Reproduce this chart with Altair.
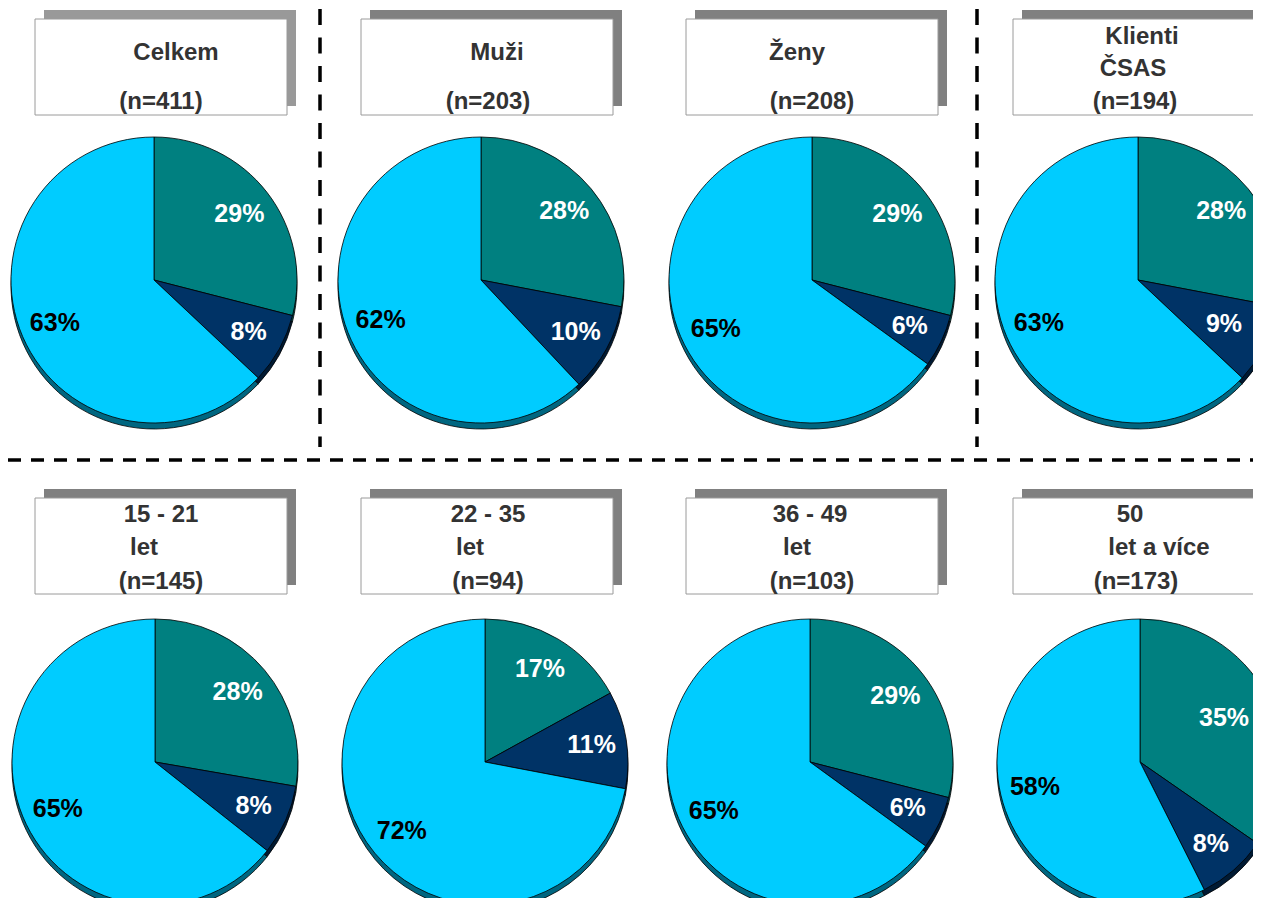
import math
import altair as alt
import pandas as pd

# ---------------- data ----------------
GROUPS = ["Celkem", "Muži", "Ženy", "Klienti ČSAS",
          "15 - 21 let", "22 - 35 let", "36 - 49 let", "50 let a více"]
N_SIZES = [411, 203, 208, 194, 145, 94, 103, 173]
CATS = ["A", "B", "C"]
SHARE_A = [29, 28, 29, 28, 28, 17, 29, 35]   # teal slice
SHARE_B = [8, 10, 6, 9, 8, 11, 6, 8]          # navy slice
SHARE_C = [63, 62, 65, 63, 65, 72, 65, 58]    # light cyan slice

# title lines per panel (PowerPoint-like layout)
TITLE_LINES = [
    ["Celkem", "(n=411)"],
    ["Muži", "(n=203)"],
    ["Ženy", "(n=208)"],
    ["Klienti", "ČSAS", "(n=194)"],
    ["15 - 21", "let", "(n=145)"],
    ["22 - 35", "let", "(n=94)"],
    ["36 - 49", "let", "(n=103)"],
    ["50", "let a více", "(n=173)"],
]

# ---------------- layout (page coords, minus 8px margin later) ----------------
M = 8
PIE_CX = [154, 481, 812, 1138, 155, 485, 810, 1140]
PIE_CY = [280, 280, 280, 280, 762, 762, 762, 762]
PIE_R = 143
LABEL_R = 108
LABEL_HALF_W = 29
SHADOW_DY = 6
BOX_X = [35, 361, 686, 1013]
BOX_Y = [19, 498]
BOX_W, BOX_H = 252, 96
BOX_SHADOW = (9, -9)
TITLE_POS = [
    [(176, 53), (161, 102)],
    [(497, 53), (488, 102)],
    [(797, 53), (812, 102)],
    [(1142, 37), (1133, 69), (1135, 102)],
    [(161, 515), (144, 548), (161, 582)],
    [(488, 515), (470, 548), (488, 582)],
    [(810, 515), (797, 548), (812, 582)],
    [(1130, 515), (1159, 548), (1136, 582)],
]
COLORS = ["#008080", "#003366", "#00CCFF"]
SHADOW_COLORS = ["#004d4d", "#001a33", "#006680"]
LABEL_COLORS = ["#FFFFFF", "#FFFFFF", "#000000"]
FONT = "Liberation Sans"
W, H = 1261 - M, 906 - M
VISIBLE_W = 1261 - 2 * M

# ---------------- tables ----------------
rows = []
for i in range(len(GROUPS)):
    vals = [SHARE_A[i], SHARE_B[i], SHARE_C[i]]
    for k, (c, v) in enumerate(zip(CATS, vals)):
        rows.append(dict(panel=i, cat=c, order=k, value=v,
                         cx=PIE_CX[i] - M, cy=PIE_CY[i] - M))
slices = pd.DataFrame(rows)

boxes = []
for i in range(len(GROUPS)):
    bx = BOX_X[i % 4] - M
    by = BOX_Y[i // 4] - M
    shade = "#999999" if i == 0 else "#808080"
    boxes.append(dict(panel=i, x0=bx, x1=bx + BOX_W, y0=by, y1=by + BOX_H,
                      sx0=bx + BOX_SHADOW[0], sx1=bx + BOX_W + BOX_SHADOW[0],
                      sy0=by + BOX_SHADOW[1], sy1=by + BOX_H + BOX_SHADOW[1],
                      shade=shade))
boxes = pd.DataFrame(boxes)

titles = []
for i, lines in enumerate(TITLE_LINES):
    for t, (tx, ty) in zip(lines, TITLE_POS[i]):
        titles.append(dict(text=t, x=tx - M, y=ty - M))
titles = pd.DataFrame(titles)

vlines = pd.DataFrame(dict(x=[320 - M, 977 - M], y0=[9 - M, 9 - M], y1=[447 - M, 447 - M]))
hline = pd.DataFrame(dict(y=[460 - M], x0=[0], x1=[W]))

# ---------------- charts ----------------
theta_scale = alt.Scale(domain=[0, 1], range=[0, 2 * math.pi])

base = (
    alt.Chart(slices)
    .transform_joinaggregate(total="sum(value)", groupby=["panel"])
    .transform_window(cum="sum(value)", groupby=["panel"],
                      sort=[alt.SortField("order")], frame=[None, 0])
    .transform_calculate(
        t0="(datum.cum - datum.value) / datum.total",
        t1="datum.cum / datum.total",
        tm="(datum.cum - datum.value / 2) / datum.total",
        cys="datum.cy + %d" % SHADOW_DY,
        label="datum.value + '%'",
    )
    .transform_calculate(
        lr="sin(2*PI*datum.tm) > 0 ? min(%d, (%d - %d - datum.cx) / sin(2*PI*datum.tm)) : %d"
           % (LABEL_R, VISIBLE_W, LABEL_HALF_W, LABEL_R)
    )
)

pie_shadow = base.mark_arc(radius=PIE_R, stroke="black", strokeWidth=0.8, clip=True).encode(
    x=alt.X("cx:Q", scale=None, axis=None),
    y=alt.Y("cys:Q", scale=None, axis=None),
    theta=alt.Theta("t0:Q", scale=theta_scale, stack=None),
    theta2="t1:Q",
    color=alt.Color("cat:N", scale=alt.Scale(domain=CATS, range=SHADOW_COLORS), legend=None),
)

pie = base.mark_arc(radius=PIE_R, stroke="black", strokeWidth=0.8, clip=True).encode(
    x=alt.X("cx:Q", scale=None, axis=None),
    y=alt.Y("cy:Q", scale=None, axis=None),
    theta=alt.Theta("t0:Q", scale=theta_scale, stack=None),
    theta2="t1:Q",
    fill=alt.Fill("cat:N", scale=alt.Scale(domain=CATS, range=COLORS), legend=None),
)

labels = base.mark_text(font=FONT, fontWeight="bold", fontSize=25,
                        align="center", baseline="middle", clip=True).encode(
    x=alt.X("cx:Q", scale=None, axis=None),
    y=alt.Y("cy:Q", scale=None, axis=None),
    theta=alt.Theta("tm:Q", scale=theta_scale, stack=None),
    radius=alt.Radius("lr:Q", scale=None),
    text="label:N",
    color=alt.Color("cat:N", scale=alt.Scale(domain=CATS, range=LABEL_COLORS), legend=None),
)

box_shadow = alt.Chart(boxes).mark_rect(clip=True).encode(
    x=alt.X("sx0:Q", scale=None, axis=None), x2="sx1:Q",
    y=alt.Y("sy0:Q", scale=None, axis=None), y2="sy1:Q",
    color=alt.Color("shade:N", scale=None, legend=None),
)
box = alt.Chart(boxes).mark_rect(fill="white", stroke="#9a9a9a", strokeWidth=1, clip=True).encode(
    x=alt.X("x0:Q", scale=None, axis=None), x2="x1:Q",
    y=alt.Y("y0:Q", scale=None, axis=None), y2="y1:Q",
)
title_text = alt.Chart(titles).mark_text(font=FONT, fontWeight="bold", fontSize=24,
                                         color="#333333", align="center",
                                         baseline="middle", clip=True).encode(
    x=alt.X("x:Q", scale=None, axis=None),
    y=alt.Y("y:Q", scale=None, axis=None),
    text="text:N",
)

vrule = alt.Chart(vlines).mark_rule(color="black", strokeWidth=3.5,
                                     strokeDash=[16, 12.5]).encode(
    x=alt.X("x:Q", scale=None, axis=None),
    y=alt.Y("y0:Q", scale=None, axis=None), y2="y1:Q",
)
hrule = alt.Chart(hline).mark_rule(color="black", strokeWidth=3.5,
                                    strokeDash=[13, 10]).encode(
    y=alt.Y("y:Q", scale=None, axis=None),
    x=alt.X("x0:Q", scale=None, axis=None), x2="x1:Q",
)

chart = (
    alt.layer(vrule, hrule, box_shadow, box, title_text, pie_shadow, pie, labels)
    .resolve_scale(color="independent")
    .properties(width=W, height=H, autosize=alt.AutoSizeParams(type="none"),
                padding={"left": 0, "top": 0, "right": -M, "bottom": -M},
                background="white")
    .configure_view(stroke=None)
)

chart.save("out.html", embed_options={"renderer": "svg", "actions": False})
